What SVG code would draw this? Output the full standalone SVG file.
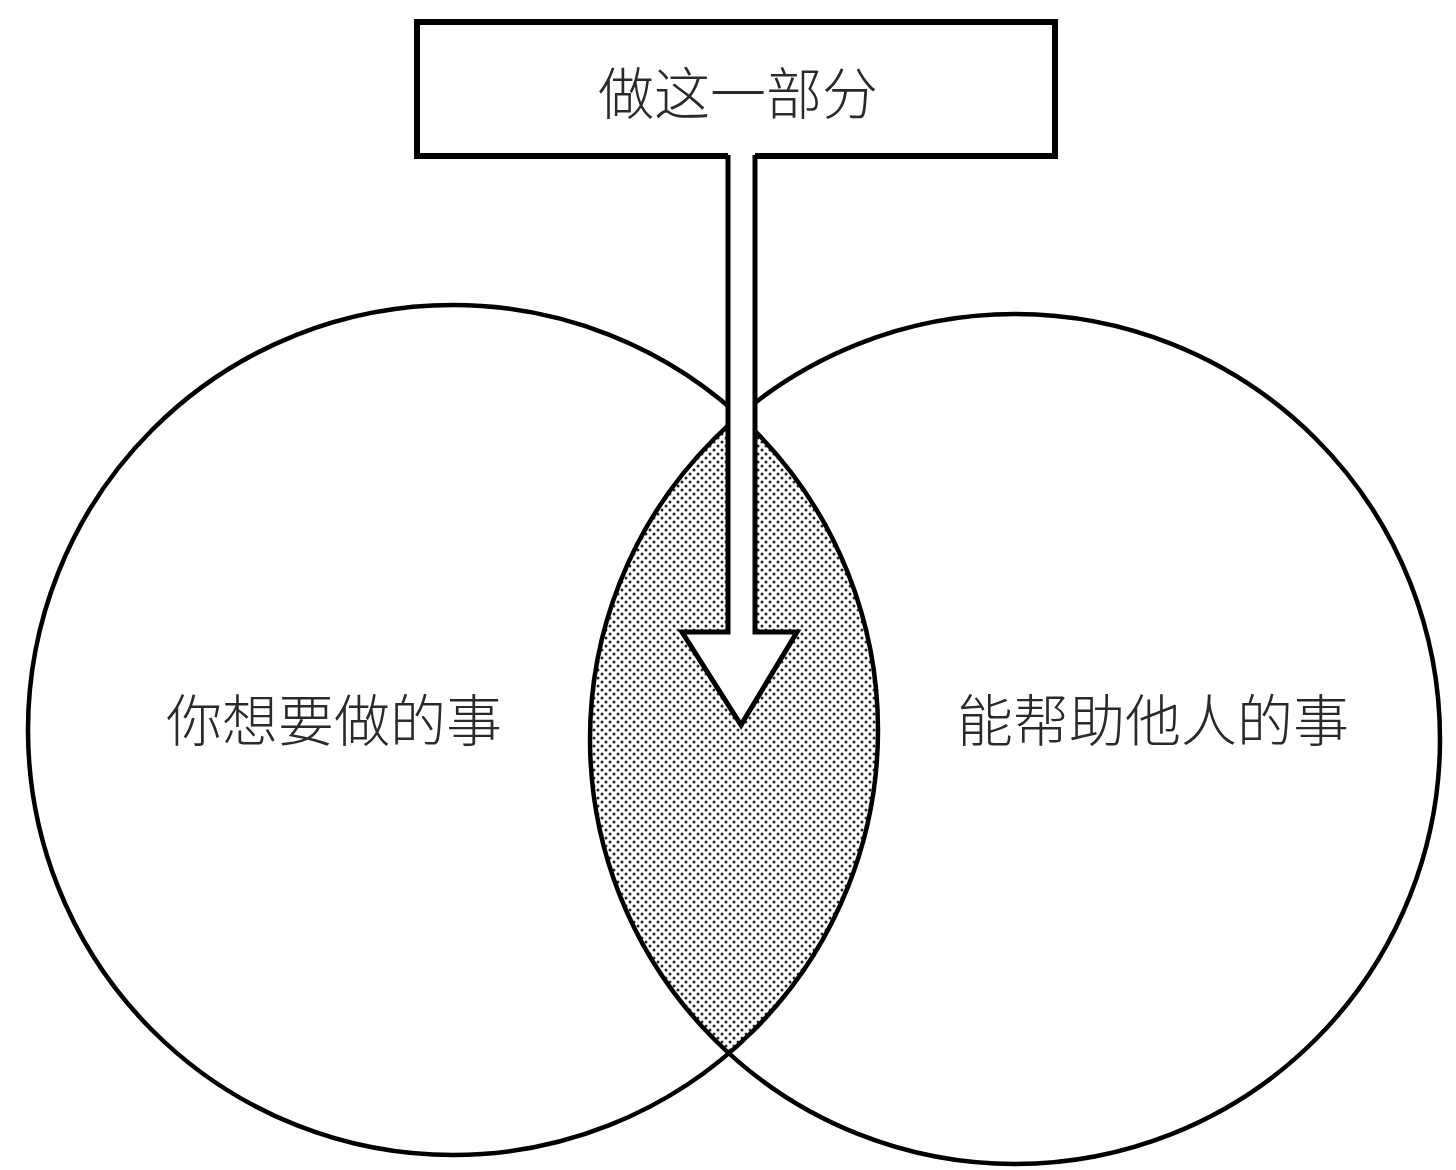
<svg xmlns="http://www.w3.org/2000/svg" width="1456" height="1170" viewBox="0 0 1456 1170">
  <style>
    .line { fill: none; stroke: #000; stroke-width: 4.5; }
    .label { font-family: "Noto Sans CJK SC", "Noto Sans", sans-serif; font-size: 56px; font-weight: 300; fill: #2a2a2a; text-anchor: middle; dominant-baseline: central; }
  </style>
  <defs>
    <pattern id="dots" width="8" height="8" patternUnits="userSpaceOnUse">
      <rect width="8" height="8" fill="#fff"/>
      <circle cx="2" cy="2" r="1.5" fill="#222"/>
      <circle cx="6" cy="6" r="1.5" fill="#222"/>
    </pattern>
    <clipPath id="rightClip">
      <circle cx="1015" cy="739" r="425"/>
    </clipPath>
  </defs>
  <rect width="1456" height="1170" fill="#fff"/>

  <g id="lens">
    <circle cx="453" cy="730" r="425" fill="url(#dots)" clip-path="url(#rightClip)"/>
  </g>

  <g id="circle-left">
    <circle class="line" cx="453" cy="730" r="425"/>
    <text class="label" x="334" y="716">你想要做的事</text>
  </g>

  <g id="circle-right">
    <circle class="line" cx="1015" cy="739" r="425"/>
    <text class="label" x="1153" y="716">能帮助他人的事</text>
  </g>

  <g id="box">
    <rect x="417" y="22" width="638" height="134" fill="#fff" stroke="#000" stroke-width="6"/>
    <text class="label" x="738" y="89">做这一部分</text>
  </g>

  <g id="connectors">
    <polygon points="728,150 728,632 682,632 741,725 797,632 755,632 755,150" fill="#fff" stroke="none"/>
    <polyline points="728,155 728,632 682,632 741,725 797,632 755,632 755,155" fill="none" stroke="#000" stroke-width="5" stroke-linejoin="miter"/>
  </g>
</svg>
